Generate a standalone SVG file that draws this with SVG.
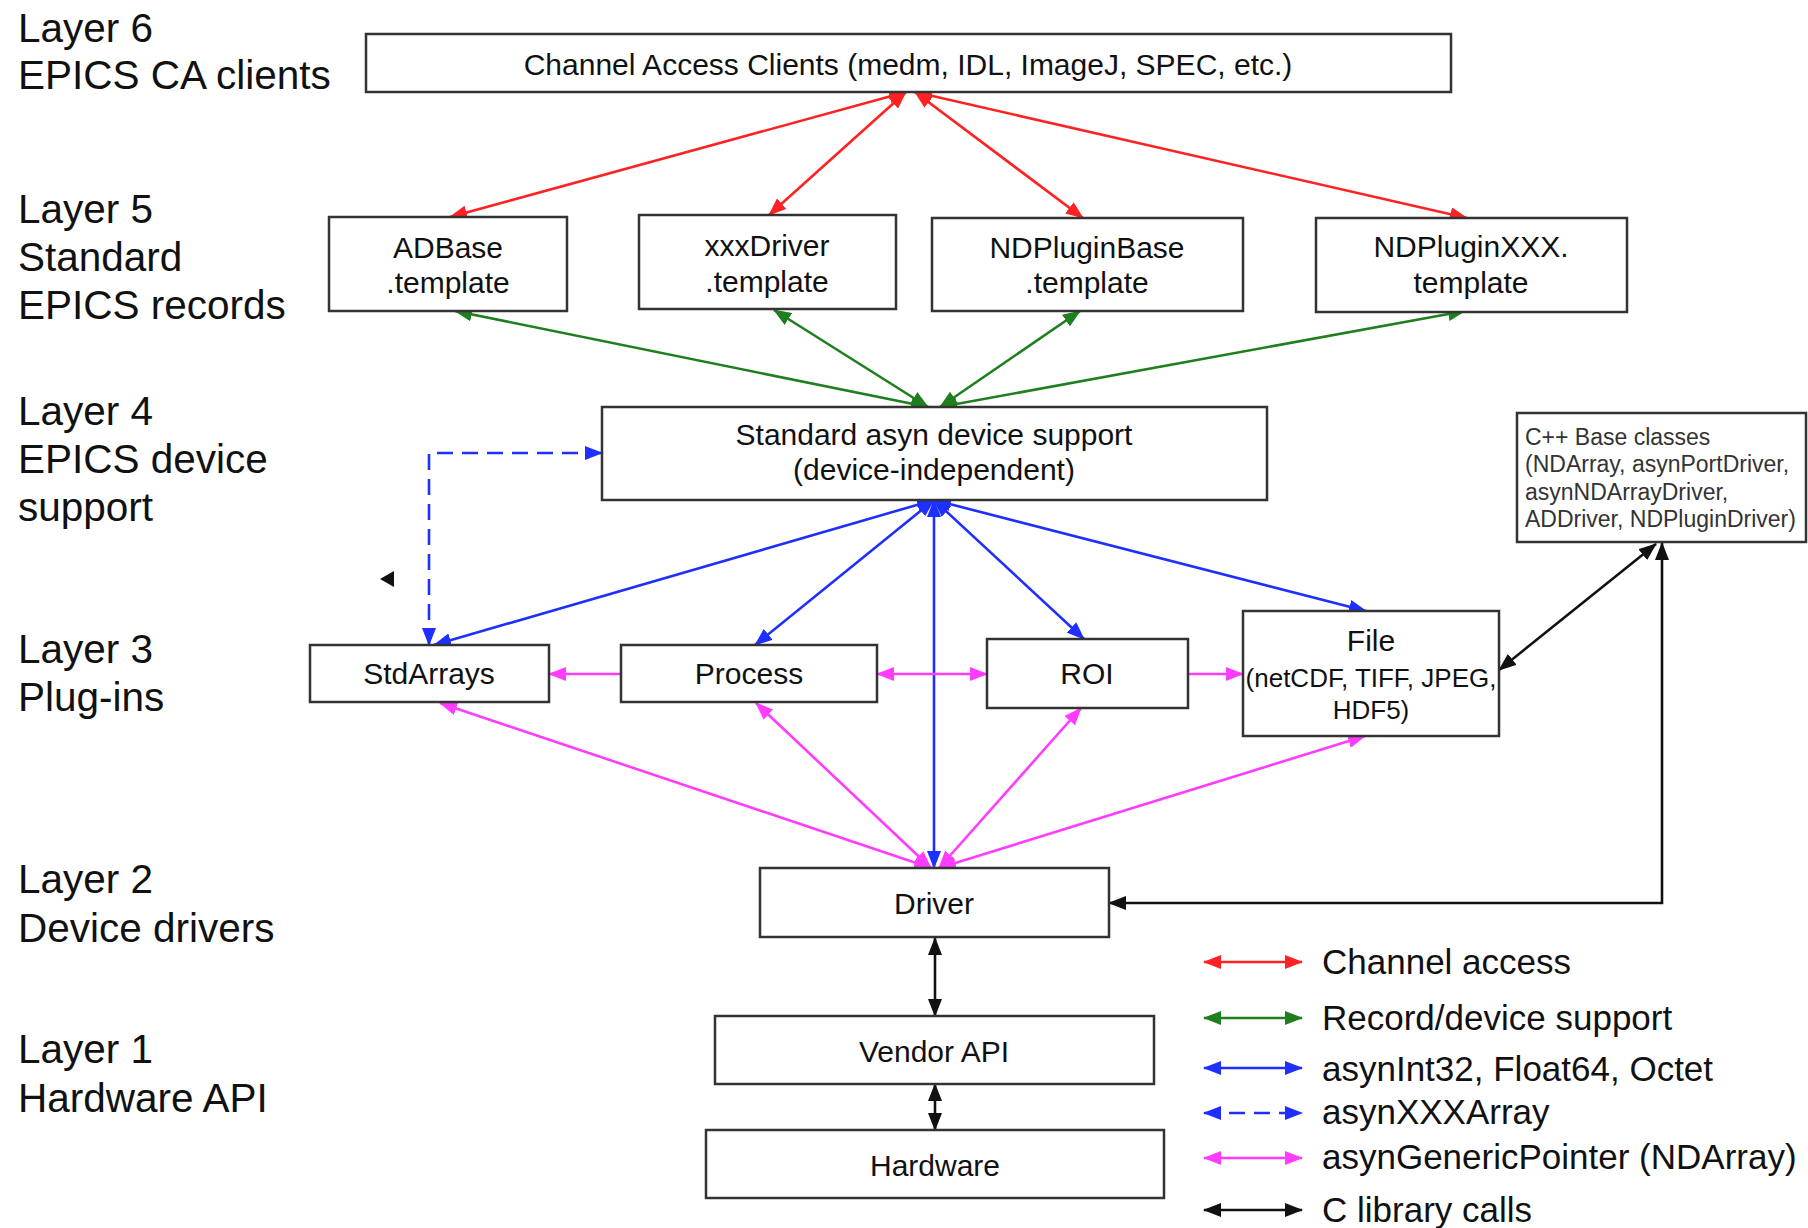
<svg xmlns="http://www.w3.org/2000/svg" width="1808" height="1228" viewBox="0 0 1808 1228">
<style>
  text { font-family: "Liberation Sans", Arial, sans-serif; fill: #111; }
  .lay { font-size: 40.5px; }
  .nt { font-size: 30px; text-anchor: middle; }
  .sm { font-size: 26px; text-anchor: middle; }
  .cpp { font-size: 23px; fill: #333; }
  .leg { font-size: 35px; }
  .box { fill: #fff; stroke: #333; stroke-width: 2.5; }
  .c { fill: none; stroke-width: 2.6; }
  .red { stroke: #ff2222; marker-start: url(#hr); marker-end: url(#hr); }
  .grn { stroke: #1f7f1f; marker-start: url(#hg); marker-end: url(#hg); }
  .blu { stroke: #1f2fff; marker-start: url(#hb); marker-end: url(#hb); }
  .dsh { stroke: #1f2fff; stroke-dasharray: 16 9; marker-start: url(#hb); marker-end: url(#hb); }
  .mag { stroke: #ff3cff; marker-start: url(#hm); marker-end: url(#hm); }
  .mag1 { stroke: #ff3cff; marker-end: url(#hm); }
  .blk { stroke: #111; marker-start: url(#hk); marker-end: url(#hk); }
</style>
<defs>
  <marker id="hr" markerUnits="userSpaceOnUse" markerWidth="18" markerHeight="14" viewBox="0 0 18 14" refX="17" refY="7" orient="auto-start-reverse"><path d="M0,0 L18,7 L0,14 z" fill="#ff2222"/></marker>
  <marker id="hg" markerUnits="userSpaceOnUse" markerWidth="18" markerHeight="14" viewBox="0 0 18 14" refX="17" refY="7" orient="auto-start-reverse"><path d="M0,0 L18,7 L0,14 z" fill="#1f7f1f"/></marker>
  <marker id="hb" markerUnits="userSpaceOnUse" markerWidth="18" markerHeight="14" viewBox="0 0 18 14" refX="17" refY="7" orient="auto-start-reverse"><path d="M0,0 L18,7 L0,14 z" fill="#1f2fff"/></marker>
  <marker id="hm" markerUnits="userSpaceOnUse" markerWidth="18" markerHeight="14" viewBox="0 0 18 14" refX="17" refY="7" orient="auto-start-reverse"><path d="M0,0 L18,7 L0,14 z" fill="#ff3cff"/></marker>
  <marker id="hk" markerUnits="userSpaceOnUse" markerWidth="18" markerHeight="14" viewBox="0 0 18 14" refX="17" refY="7" orient="auto-start-reverse"><path d="M0,0 L18,7 L0,14 z" fill="#111"/></marker>
</defs>
<rect width="1808" height="1228" fill="#fff"/>

<g id="layer-labels">
  <text class="lay" x="18" y="42">Layer 6</text>
  <text class="lay" x="18" y="89">EPICS CA clients</text>
  <text class="lay" x="18" y="223">Layer 5</text>
  <text class="lay" x="18" y="271">Standard</text>
  <text class="lay" x="18" y="319">EPICS records</text>
  <text class="lay" x="18" y="425">Layer 4</text>
  <text class="lay" x="18" y="473">EPICS device</text>
  <text class="lay" x="18" y="521">support</text>
  <text class="lay" x="18" y="663">Layer 3</text>
  <text class="lay" x="18" y="711">Plug-ins</text>
  <text class="lay" x="18" y="893">Layer 2</text>
  <text class="lay" x="18" y="942">Device drivers</text>
  <text class="lay" x="18" y="1063">Layer 1</text>
  <text class="lay" x="18" y="1112">Hardware API</text>
</g>

<g id="connectors">
  <path class="c red" d="M906,92 L450,217"/>
  <path class="c red" d="M906,92 L769,215"/>
  <path class="c red" d="M915,92 L1083,218"/>
  <path class="c red" d="M915,92 L1467,218"/>
  <path class="c grn" d="M455,311 L928,407"/>
  <path class="c grn" d="M774,310 L928,407"/>
  <path class="c grn" d="M1080,311 L940,407"/>
  <path class="c grn" d="M1465,311 L940,407"/>
  <path class="c blu" d="M934,500 L434,645"/>
  <path class="c blu" d="M934,500 L755,645"/>
  <path class="c blu" d="M934,500 L934,868"/>
  <path class="c blu" d="M934,500 L1084,639"/>
  <path class="c blu" d="M934,500 L1366,611"/>
  <path class="c dsh" d="M429,645 V453 H602"/>
  <path class="c mag1" d="M621,674 L549,674"/>
  <path class="c mag" d="M877,674 L987,674"/>
  <path class="c mag1" d="M1188,674 L1243,674"/>
  <path class="c mag" d="M931,868 L440,703"/>
  <path class="c mag" d="M931,868 L756,703"/>
  <path class="c mag" d="M939,868 L1081,708"/>
  <path class="c mag" d="M939,868 L1365,736"/>
  <path class="c blk" d="M935,938 V1016"/>
  <path class="c blk" d="M935,1084 V1130"/>
  <path class="c blk" d="M1662,543 V903 H1109"/>
  <path class="c blk" d="M1499,670 L1656,544"/>
  <polygon points="380,579 394,571 394,587" fill="#111"/>
</g>

<g id="ca-clients">
  <rect class="box" x="366" y="34" width="1085" height="58"/>
  <text class="nt" x="908" y="75">Channel Access Clients (medm, IDL, ImageJ, SPEC, etc.)</text>
</g>
<g id="adbase">
  <rect class="box" x="329" y="217" width="238" height="94"/>
  <text class="nt" x="448" y="258">ADBase</text>
  <text class="nt" x="448" y="293">.template</text>
</g>
<g id="xxxdriver">
  <rect class="box" x="639" y="215" width="257" height="94"/>
  <text class="nt" x="767" y="256">xxxDriver</text>
  <text class="nt" x="767" y="292">.template</text>
</g>
<g id="ndpluginbase">
  <rect class="box" x="932" y="218" width="311" height="93"/>
  <text class="nt" x="1087" y="258">NDPluginBase</text>
  <text class="nt" x="1087" y="293">.template</text>
</g>
<g id="ndpluginxxx">
  <rect class="box" x="1316" y="218" width="311" height="94"/>
  <text class="nt" x="1471" y="257">NDPluginXXX.</text>
  <text class="nt" x="1471" y="293">template</text>
</g>
<g id="asyn-device-support">
  <rect class="box" x="602" y="407" width="665" height="93"/>
  <text class="nt" x="934" y="445">Standard asyn device support</text>
  <text class="nt" x="934" y="480">(device-independent)</text>
</g>
<g id="cpp-base">
  <rect class="box" x="1517" y="413" width="289" height="129"/>
  <text class="cpp" x="1525" y="445">C++ Base classes</text>
  <text class="cpp" x="1525" y="472">(NDArray, asynPortDriver,</text>
  <text class="cpp" x="1525" y="500">asynNDArrayDriver,</text>
  <text class="cpp" x="1525" y="527">ADDriver, NDPluginDriver)</text>
</g>
<g id="stdarrays">
  <rect class="box" x="310" y="645" width="239" height="57"/>
  <text class="nt" x="429" y="684">StdArrays</text>
</g>
<g id="process">
  <rect class="box" x="621" y="645" width="256" height="57"/>
  <text class="nt" x="749" y="684">Process</text>
</g>
<g id="roi">
  <rect class="box" x="987" y="639" width="201" height="69"/>
  <text class="nt" x="1087" y="684">ROI</text>
</g>
<g id="file">
  <rect class="box" x="1243" y="611" width="256" height="125"/>
  <text class="nt" x="1371" y="651">File</text>
  <text class="sm" x="1371" y="687">(netCDF, TIFF, JPEG,</text>
  <text class="sm" x="1371" y="719">HDF5)</text>
</g>
<g id="driver">
  <rect class="box" x="760" y="868" width="349" height="69"/>
  <text class="nt" x="934" y="914">Driver</text>
</g>
<g id="vendor-api">
  <rect class="box" x="715" y="1016" width="439" height="68"/>
  <text class="nt" x="934" y="1062">Vendor API</text>
</g>
<g id="hardware">
  <rect class="box" x="706" y="1130" width="458" height="68"/>
  <text class="nt" x="935" y="1176">Hardware</text>
</g>

<g id="legend">
  <path class="c red" d="M1204,962 H1302"/>
  <text class="leg" x="1322" y="974">Channel access</text>
  <path class="c grn" d="M1204,1018 H1302"/>
  <text class="leg" x="1322" y="1030">Record/device support</text>
  <path class="c blu" d="M1204,1068 H1302"/>
  <text class="leg" x="1322" y="1081">asynInt32, Float64, Octet</text>
  <path class="c dsh" d="M1204,1113 H1302"/>
  <text class="leg" x="1322" y="1124">asynXXXArray</text>
  <path class="c mag" d="M1204,1158 H1302"/>
  <text class="leg" x="1322" y="1169">asynGenericPointer (NDArray)</text>
  <path class="c blk" d="M1204,1210 H1302"/>
  <text class="leg" x="1322" y="1222">C library calls</text>
</g>
</svg>
